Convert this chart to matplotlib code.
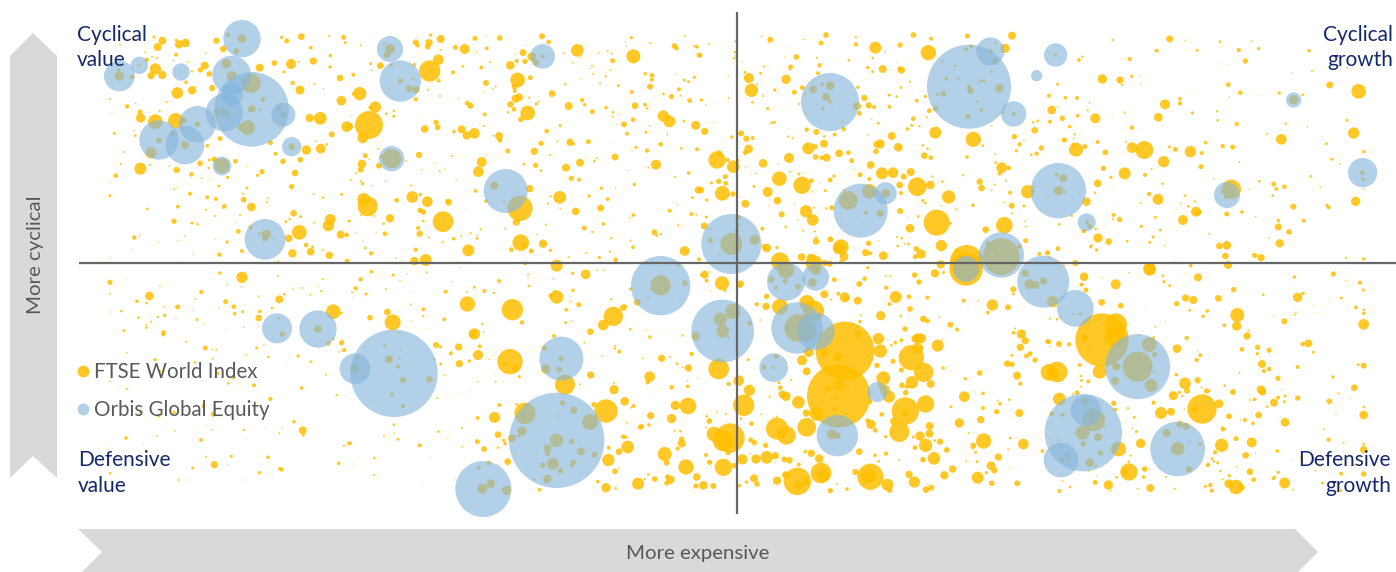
#quadrant bubble chart: FTSE World Index vs Orbis Global Equity

import numpy as np
import matplotlib.pyplot as plt
from matplotlib.lines import Line2D
from matplotlib.patches import Polygon

plt.rcParams['font.family'] = ['Lato', 'DejaVu Sans']

# readings are (x, y, diameter) at 3x scale, one list per area of the picture
# area origins, in picture pixels
top_a = (0, 0)
top_b = (350, 0)
top_c = (700, 0)
top_d = (1046, 0)
low_a = (0, 260)
low_b = (350, 260)
low_c = (700, 260)
low_d = (1046, 260)

ftse_top_a = [(487,122,24),(473,141,24),(537,133,25),(556,129,26),(649,122,19),(670,147,20),(845,112,10),(860,123,15),(904,110,20),(987,108,6),(1031,112,15),(932,143,12),(991,167,11),(1036,128,9),(462,111,9),(528,120,8),(360,133,6),(400,117,8),(435,157,5),(440,180,14),(456,170,6),(471,174,6),(528,164,12),(521,181,5),(565,187,6),(617,160,5),(466,207,34),(453,227,22),(487,225,25),(614,197,24),(601,210,16),(628,222,17),(576,214,7),(823,189,17),(873,192,30),(895,186,6),(940,183,22),(990,201,10),(779,203,24),(851,216,9),(1020,234,20),(878,249,13),(558,247,11),(532,279,35),(576,271,25),(636,264,19),(900,270,27),(943,253,6),(970,266,4),(585,260,5),(330,297,6),(500,305,6),(381,319,13),(407,310,5),(420,336,15),(422,354,28),(336,337,4),(479,333,7),(466,365,44),(527,362,46),(1024,302,29),(929,354,25),(961,355,38),(1040,380,32),(343,400,9),(402,393,5),(406,407,8),(995,403,18),(660,416,15),(811,428,15),(919,450,28),(962,446,29),(980,433,8),(947,424,6),(622,437,11),(826,461,12),(849,484,17),(901,479,17),(372,456,6),(362,492,6),(421,506,36),(450,495,7),(347,527,14),(330,547,4),(643,478,17),(600,490,17),(628,480,9),(706,484,14),(626,504,8),(530,510,19),(508,497,5),(574,523,14),(605,535,6),(632,538,4),(683,532,10),(773,526,10),(786,515,16),(885,519,20),(740,500,4),(657,558,8),(875,560,16),(522,568,6),(529,562,4),(570,581,12),(740,564,9),(330,587,9),(622,592,12),(648,597,12),(729,581,6),(731,599,17),(803,595,6),(801,607,6),(941,581,6),(969,593,8),(1025,583,9),(754,621,26),(442,627,8),(534,620,12),(618,629,6),(673,619,14),(667,625,4),(881,640,20),(720,645,6),(645,648,6),(522,664,16),(576,669,9),(593,673,8),(902,650,9),(858,665,9),(869,657,7),(943,668,6),(991,658,32),(985,677,34),(1046,663,8),(708,666,4),(752,682,13),(715,694,14),(403,713,13),(419,707,5),(898,697,44),(866,715,23),(1022,704,24),(1040,705,14),(681,726,10),(645,718,4),(475,726,4),(535,721,4),(555,707,5),(726,753,12),(918,735,14),(938,740,9),(877,760,25),(932,755,23),(988,766,22),(658,764,13),(580,763,4),(1041,783,14),(330,775,4),(395,748,4),(968,750,6),(535,787,4),(834,786,8),
    (358,228,28),(356,210,10),(397,230,14),(418,196,9),(543,216,5),(726,116,26),(683,105,14),(709,153,17),(679,191,28),(695,228,30),(753,250,58),(789,298,14),(755,327,23),(781,328,8),(743,383,44),(722,382,20),(838,323,14),(850,344,18),(651,336,20),(671,338,24),(685,347,10),(641,352,8),(592,372,16),(477,421,18),(518,400,16),(551,361,18),(453,458,34),(555,435,24),(875,440,20),(666,497,46),(799,703,28),(795,716,16),(779,700,8),(822,719,4)]

ftse_top_b = [(32,136,6),(10,224,12),(62,191,9),(65,210,5),(91,197,20),(197,127,18),(203,136,13),(237,128,22),(233,140,17),(242,105,10),(272,117,24),(272,150,6),(265,179,32),(239,213,64),(246,213,10),(193,194,11),(309,217,12),(339,199,8),(394,202,12),(344,147,30),(316,142,15),(375,115,15),(410,107,4),(410,145,12),(449,114,17),(372,159,4),(380,156,4),(420,186,6),(481,196,26),(500,183,12),(519,158,21),(525,184,16),(545,170,26),(576,109,18),(596,126,14),(527,135,4),(497,163,4),(682,151,38),(641,160,6),(668,188,5),(691,172,5),(745,159,5),(773,153,6),(785,161,6),(788,182,15),(850,169,42),(844,113,10),(901,129,6),(827,126,4),(829,138,4),(726,198,6),(720,206,4),(781,211,6),(728,221,5),(767,229,7),(750,250,6),(805,257,9),(692,237,4),(646,253,7),(408,249,18),(503,240,44),(541,233,15),(494,260,18),(494,273,12),(437,259,6),(428,266,5),(403,275,4),(606,281,20),(845,276,12),(886,221,10),(906,226,14),(905,239,12),(900,260,18),(987,268,12),(1003,240,10),(1015,245,9),(1033,232,10),(964,290,16),(940,282,8),(992,287,6),(1019,302,14),(978,222,4),(1005,109,6),(973,138,17),(980,145,13),(1032,139,6),(1040,140,12),(1047,165,15),(29,281,40),(10,282,10),(270,288,6),(197,298,13),(234,269,6),(266,242,12),(326,297,4),(351,309,14),(361,317,19),(404,343,12),(481,313,19),(492,328,14),(475,337,8),(497,296,24),(507,292,24),(533,339,44),(513,358,17),(538,293,7),(565,305,6),(559,312,10),(656,318,24),(696,300,13),(704,314,11),(727,335,15),(768,323,11),(789,337,8),(788,350,6),(804,342,4),(855,317,20),(885,314,12),(892,325,8),(849,359,14),(940,348,34),(958,364,36),(1001,364,8),(1037,376,27),(76,321,34),(61,323,12),(57,375,84),(0,379,20),(38,414,32),(132,333,8),(131,349,9),(109,341,8),(3,347,4),(204,345,3),(258,367,16),(263,382,17),(224,387,23),(312,395,11),(335,388,24),(350,406,25),(373,400,32),(390,373,4),(402,378,6),(430,407,6),(447,408,24),(450,421,15),(590,393,14),(630,377,9),(801,375,4),(822,373,18),(831,401,12),(888,397,9),(899,378,5),(952,397,5),(952,405,5),(573,430,16),(660,427,22),(672,432,9),(622,424,6),(715,425,15),(785,427,3),(858,442,10),(846,451,4),(891,452,13),(932,433,14),(994,445,8),(1041,448,12),(85,447,6),(46,467,15),(207,465,19),(473,453,15),(553,454,22),(600,465,6),(795,471,21),(711,472,3),(741,474,6),(733,483,8),(690,488,24),(648,503,24),(557,496,16),(522,493,8),(36,492,26),(32,509,18),(87,497,18),(168,482,5),(56,478,4),(410,465,4),(395,486,30),(385,515,32),(306,468,6),(255,489,4),(216,509,5),(269,513,6),(283,507,4),(18,520,6),(573,512,8),(918,494,30),(895,503,6),(832,511,4),(1016,519,11),(975,531,6),(664,535,16),(687,539,12),(754,565,10),(740,574,3),(797,564,5),(853,553,11),(319,540,4),(3,540,6),(32,544,6),(38,551,10),(65,557,5),(107,542,5),(183,556,6),(1045,570,22),(376,573,11),(539,566,22),(187,591,35),(211,584,11),(232,605,32),(140,601,14),(41,598,38),(53,619,60),(292,603,12),(296,607,20),(408,603,11),(510,625,76),(463,606,6),(629,592,38),(602,589,7),(667,586,3),(717,588,10),(773,597,12),(594,611,6),(631,626,5),(752,624,21),(677,634,23),(352,625,3),(968,605,3),(982,613,4),(1027,593,9),(959,632,12),(850,645,11),(840,653,5),(1024,642,12),(1039,644,6),(210,631,16),(220,636,17),(120,655,25),(32,646,6),(73,648,6),(0,663,6),(279,665,62),(220,663,8),(101,671,8),(499,666,22),(703,684,15),(760,672,11),(588,674,6),(784,656,3),(204,684,12),(209,701,19),(105,701,14),(18,697,4),(78,698,4),(392,688,7),(362,699,6),(383,706,5),(381,715,9),(333,708,6),(311,716,11),(466,686,6),(561,703,5),(727,696,7),(913,697,18),(920,706,9),(933,702,7),(985,674,6),(985,681,4),(237,712,6),(278,726,6),(40,723,4),(46,744,8),(63,760,13),(96,757,3),(197,749,13),(138,775,5),(193,783,25),(227,780,36),(355,751,36),(512,728,50),(523,736,16),(484,749,14),(544,753,15),(579,731,25),(601,751,10),(784,715,7),(842,722,6),(849,742,11),(1004,753,29),(709,759,6),(748,773,10),(780,755,7),(656,771,6),(797,779,14),(325,786,5),(1047,778,12),(620,797,36),(526,790,12),
    (120,147,30),(111,165,20),(103,131,8),(124,195,10),(151,243,16),(178,266,22),(198,269,22),(188,236,9),(115,266,5),(125,476,58),(96,470,12),(433,557,25),(578,169,12),(558,188,20)]

ftse_top_c = [(27,131,6),(0,166,14),(186,109,5),(211,119,18),(207,130,4),(106,124,6),(105,156,8),(108,168,7),(102,175,8),(125,186,4),(363,129,15),(378,105,17),(468,112,7),(468,133,13),(313,118,5),(268,142,3),(526,143,36),(600,135,16),(556,155,5),(640,105,17),(693,116,12),(685,158,46),(802,108,15),(936,107,24),(915,145,28),(289,171,17),(253,171,4),(351,173,6),(411,177,3),(446,181,8),(518,174,8),(359,196,13),(272,201,15),(269,209,6),(193,199,7),(205,201,3),(182,220,9),(135,217,9),(503,203,10),(548,207,24),(566,210,3),(590,189,3),(599,207,14),(604,210,22),(518,215,9),(354,220,12),(147,234,30),(137,233,10),(258,238,28),(172,252,6),(85,227,4),(630,245,6),(154,271,40),(224,270,10),(234,275,4),(283,277,15),(307,263,15),(473,262,10),(336,248,4),(603,263,8),(189,288,6),(109,275,4),(87,295,6),(4,300,10),(17,314,4),(46,310,3),(157,307,8),(203,326,10),(297,312,6),(493,294,19),(506,316,19),(522,321,12),(568,285,9),(590,290,8),(568,320,12),(650,302,12),(676,289,10),(688,332,14),(478,340,15),(640,356,14),(681,352,6),(635,376,9),(622,387,11),(658,379,7),(214,369,7),(222,367,10),(43,368,4),(267,385,3),(515,358,4),(535,370,9),(875,377,5),(999,367,8),(1013,362,8),(1004,391,20),(706,398,36),(820,418,46),(848,437,8),(14,394,22),(123,400,18),(95,411,10),(139,416,19),(158,414,12),(265,410,7),(278,415,6),(320,389,13),(349,396,18),(373,409,8),(404,404,12),(431,387,14),(504,405,5),(575,408,24),(943,410,16),(972,422,5),(146,447,26),(135,457,13),(136,461,10),(325,445,36),(345,440,16),(372,431,24),(540,432,28),(530,433,20),(595,442,26),(668,436,8),(683,446,8),(959,433,13),(949,452,10),(1024,444,16),(994,464,8),(1010,461,13),(51,480,52),(57,460,18),(83,480,12),(100,500,38),(115,481,8),(189,490,26),(267,474,30),(347,471,17),(365,473,14),(380,473,24),(417,460,23),(445,458,14),(528,454,17),(455,482,15),(673,467,20),(692,473,14),(801,471,11),(886,463,6),(887,488,8),(905,503,32),(899,521,12),(926,504,14),(136,502,4),(233,491,4),(512,495,23),(463,510,4),(546,520,36),(579,518,32),(611,530,18),(632,516,24),(480,524,15),(508,537,12),(296,522,8),(308,518,4),(270,515,6),(151,521,3),(168,520,5),(696,529,6),(789,526,6),(76,530,15),(56,544,16),(77,550,14),(34,549,9),(238,536,44),(306,556,52),(334,542,14),(162,559,9),(390,540,15),(402,528,10),(358,548,4),(599,555,20),(652,560,56),(691,555,26),(727,545,8),(839,545,19),(845,564,20),(884,554,6),(918,542,6),(2,570,20),(67,580,44),(67,595,10),(99,582,16),(203,576,30),(376,572,9),(338,575,5),(603,579,12),(746,591,40),(875,571,5),(930,578,12),(983,575,40),(1002,560,8),(20,600,10),(136,611,24),(123,590,4),(232,602,23),(245,643,18),(284,613,4),(207,617,4),(318,634,37),(338,660,35),(342,623,6),(379,625,7),(394,620,9),(396,624,15),(668,602,10),(676,609,8),(723,617,5),(819,616,11),(913,607,6),(935,617,18),(972,618,9),(600,633,18),(769,628,6),(655,649,8),(623,653,4),(710,668,78),(752,670,8),(937,641,6),(913,676,50),(974,664,5),(978,680,6),(13,678,21),(19,651,9),(187,686,12),(257,680,8),(294,661,5),(309,692,6),(345,694,6),(630,685,26),(857,689,20),(591,711,6),(605,715,8),(348,724,20),(348,711,6),(391,718,18),(506,730,16),(536,722,4),(423,741,46),(415,745,34),(462,744,4),(593,738,8),(615,731,6),(625,732,8),(724,737,34),(977,722,15),(200,744,26),(192,740,15),(231,743,10),(240,784,54),(305,771,23),(333,774,26),(342,790,50),(374,789,18),(389,791,18),(432,770,26),(424,785,13),(497,758,22),(511,760,12),(550,767,26),(649,747,17),(663,762,28),(646,770,15),(722,793,25),(800,785,100),(798,807,100),(770,752,14),(1042,758,14),(1018,762,12),(1049,772,8),(503,803,10),
    (391,257,26),(339,268,24),(378,291,24),(390,305,12),(366,253,10),(369,326,10),(316,282,8),(341,240,5),(471,318,24),(427,365,8),(318,341,6),(400,322,4),(811,272,19),(807,260,12),(730,281,16),(714,283,10),(739,236,12),(774,235,8),(765,198,8),(727,184,7),(798,148,12),(813,139,12),(843,242,11),(853,244,9),(833,250,6),(898,265,26),(832,305,8),(844,330,11),(804,349,15),(706,326,16),(889,348,4),(872,154,14),(885,184,20),(887,129,8),(864,120,4),(874,215,8),(927,329,5),(941,342,12),(909,338,8),(445,601,56),(508,574,44),(498,638,12),(540,640,22),(515,630,4),(474,655,4),(424,671,4),(557,580,26),(432,570,8),(94,732,66),(164,720,30),(31,721,16),(115,652,14),(111,695,12),(117,675,8),(59,760,6),(33,688,5),(904,770,110),(958,739,14),(892,765,16),(864,730,14)]

ftse_top_d = [(200,120,7),(371,117,21),(416,121,4),(522,125,8),(617,124,6),(332,152,12),(454,151,9),(578,150,13),(638,146,10),(789,152,11),(99,180,11),(109,170,7),(251,177,13),(598,183,16),(520,190,3),(542,193,3),(737,218,4),(798,214,6),(904,203,6),(169,237,28),(222,240,22),(257,229,10),(282,230,4),(228,255,7),(285,251,4),(35,253,9),(547,254,14),(851,255,21),(938,274,44),(583,278,14),(700,279,10),(770,284,8),(428,276,3),(551,290,4),(638,286,3),(9,287,12),(58,293,11),(93,294,12),(402,296,11),(402,310,13),(357,313,30),(131,308,5),(17,330,26),(36,322,5),(125,331,7),(95,347,11),(49,355,16),(12,365,12),(148,355,30),(200,344,3),(236,337,6),(337,352,26),(439,339,10),(513,334,7),(515,361,8),(594,361,3),(572,372,13),(719,371,7),(903,361,9),(71,380,11),(258,383,14),(287,391,3),(784,380,5),(86,403,7),(84,415,5),(55,420,16),(155,426,12),(240,425,6),(662,402,6),(706,418,32),(923,399,34),(90,449,42),(84,435,14),(117,440,15),(178,457,17),(258,443,32),(295,450,54),(370,441,9),(388,448,15),(433,455,34),(467,459,12),(479,428,11),(530,438,13),(560,441,15),(841,431,9),(953,455,10),(172,505,16),(353,485,34),(465,500,15),(580,486,6),(857,478,9),(881,492,5),(195,532,10),(236,520,36),(297,525,12),(317,507,6),(503,536,5),(640,544,8),(795,529,8),(155,550,23),(350,551,8),(683,552,15),(715,560,14),(691,567,12),(823,561,5),(953,568,5),(147,578,7),(199,562,3),(556,568,58),(609,568,4),(680,587,8),(309,582,13),(336,598,33),(417,587,8),(121,605,26),(284,609,6),(405,610,5),(447,604,6),(427,619,8),(214,610,3),(450,635,30),(457,637,18),(742,620,18),(843,616,10),(848,622,12),(929,604,28),(588,636,11),(542,642,15),(629,650,5),(77,647,8),(203,645,12),(201,657,6),(221,659,16),(328,652,9),(411,660,30),(697,662,11),(773,662,12),(40,673,8),(286,679,10),(177,679,3),(697,681,21),(729,696,17),(149,687,8),(113,693,14),(343,690,9),(490,701,6),(156,714,28),(188,725,20),(244,724,8),(321,711,9),(311,727,9),(670,713,5),(701,730,25),(134,740,10),(137,736,7),(152,750,10),(36,746,14),(356,737,5),(520,738,20),(542,736,26),(5,759,14),(88,789,18),(538,768,20),(626,766,16),(645,773,22),(901,774,7),(953,777,10),(310,806,36),(385,785,3),(434,797,11),(546,795,24),
    (29,165,10),(32,524,12),(52,534,24),(38,572,28),(58,576,8),(5,590,6),(101,577,4),(123,667,12),(131,679,14),(125,655,4),(540,592,10),(525,576,8),(743,299,28),(949,518,14),(952,538,10)]

ftse_low_a = [(659,39,10),(726,52,34),(330,67,16),(378,58,3),(833,48,6),(968,57,6),(480,78,5),(681,74,5),(725,80,5),(604,96,13),(330,101,6),(448,108,26),(411,124,11),(440,129,8),(586,117,6),(677,125,15),(776,109,6),(838,118,24),(853,103,8),(879,87,5),(906,84,6),(931,104,6),(964,93,7),(955,79,4),(330,156,4),(364,153,8),(493,140,6),(533,141,15),(580,151,4),(701,140,14),(728,155,9),(657,144,4),(732,136,3),(816,144,8),(779,154,11),(704,161,11),(1000,155,44),(1024,160,8),(415,173,8),(474,171,7),(494,166,10),(528,177,4),(591,179,9),(776,174,20),(453,185,6),(439,194,6),(439,203,8),(612,191,4),(372,212,9),(491,218,15),(489,224,11),(558,245,6),(676,208,3),(731,202,5),(776,201,3),(770,264,9),(616,264,15),(635,269,5),(649,269,6),(739,285,5),(792,253,5),(805,291,8),(894,288,10),(381,278,5),(465,299,10),(531,304,4),(585,307,8),(638,296,6),(933,305,8),(856,319,3),(978,344,6),(1025,248,16),(1000,237,8),(1033,270,12),(1017,276,5),(1026,272,6),(480,333,8),(652,340,12),(699,352,12),(330,364,5),(381,387,6),(389,385,3),(685,370,8),(715,367,3),(762,376,12),(905,384,11),(1010,405,7),(1036,406,3),(811,417,13),(420,456,8),(476,467,11),(522,458,10),(610,439,11),(640,463,15),(882,485,11),(525,513,5),(619,496,3),(636,509,5),(731,510,7),(796,502,3),(847,504,4),(908,511,24),(910,525,9),(838,520,6),(378,534,11),(471,528,5),(603,540,12),(330,553,3),(430,553,3),(736,536,3),(1047,550,12),(1032,558,6),(618,590,6),(694,589,9),(804,592,11),(578,624,9),(643,614,22),(683,613,4),(1016,610,11),(778,638,10),(840,626,11),(845,629,12),(820,642,3),(330,640,8),(536,660,6),(730,660,4),
    (835,175,8),(847,222,16),(830,205,3),(954,207,24),(985,250,14),(924,180,3)]

ftse_low_b = [(330,22,4),(64,35,11),(32,58,13),(17,85,13),(6,97,6),(48,102,9),(130,45,9),(115,48,3),(150,62,5),(172,42,4),(231,37,6),(107,87,6),(187,94,3),(305,65,5),(287,95,12),(351,96,6),(373,82,9),(403,93,12),(432,99,7),(447,63,12),(534,44,6),(534,54,4),(537,78,8),(611,56,5),(668,40,10),(707,43,29),(741,30,5),(761,31,6),(669,91,11),(612,93,6),(620,111,40),(602,107,14),(352,132,46),(487,149,64),(183,133,6),(516,187,13),(686,134,15),(661,125,5),(649,149,12),(751,136,3),(784,118,7),(790,169,58),(820,143,20),(826,138,10),(760,195,32),(647,188,9),(665,184,5),(841,208,8),(721,215,20),(829,187,3),(112,156,20),(128,187,48),(60,173,17),(220,148,12),(220,169,7),(183,182,4),(283,178,12),(397,193,7),(230,206,3),(373,222,34),(401,215,5),(368,222,22),(612,228,12),(703,248,6),(890,211,4),(900,231,11),(949,220,3),(997,227,7),(1025,282,13),(258,255,18),(271,261,10),(326,261,22),(389,259,12),(302,280,12),(384,285,30),(358,303,10),(328,311,22),(272,312,9),(283,345,5),(415,298,4),(433,286,3),(546,271,3),(756,288,5),(795,258,6),(794,266,8),(808,275,12),(878,295,5),(935,295,22),(960,291,6),(981,311,9),(997,322,5),(1015,324,22),(480,305,76),(464,313,14),(497,325,20),(508,350,9),(437,365,6),(461,366,4),(435,345,3),(383,365,5),(722,345,22),(736,354,3),(690,373,6),(899,350,32),(893,367,13),(1044,355,4),(1013,362,5),(792,369,6),(792,389,28),(965,382,14),(1013,379,11),(261,414,6),(338,398,3),(352,399,3),(360,393,3),(910,403,3),(448,435,12),(434,472,33),(383,474,12),(500,433,8),(824,424,26),(843,443,6),(851,438,12),(732,434,16),(768,453,70),(976,436,28),(1014,438,50),(902,467,22),(965,476,28),(132,494,8),(830,488,5),(833,491,3),(874,500,17),(869,502,12),(897,495,11),(265,515,8),(132,520,5),(102,527,6),(144,538,9),(209,556,12),(2,550,8),(302,525,3),(290,535,3),(336,503,6),(337,560,5),(444,524,20),(382,545,15),(461,541,10),(465,551,11),(444,563,8),(402,567,17),(820,530,14),(828,532,10),(833,561,38),(807,575,20),(776,563,12),(775,600,37),(974,512,6),(991,514,8),(995,538,17),(995,551,24),(983,566,12),(944,582,42),(950,608,18),(1008,621,46),(73,594,8),(244,589,3),(72,645,6),(473,605,20),(795,634,17),(807,624,5),(1040,651,23),(895,643,8),(914,657,17),(884,657,6),(952,650,14),(961,659,26),(950,669,15),(864,671,36),(743,665,11),(768,683,28),(797,685,8),(1038,678,16),(568,689,11),(214,679,3),(315,655,3),(8,612,3),(8,113,3),(110,213,3),(145,217,5),(157,222,4),(645,374,60),(525,460,64),
    (117,298,24),(144,320,12),(104,257,9),(159,360,18),(148,295,7),(126,404,13),(159,438,13),(238,358,20),(153,267,6),(253,298,8),(72,422,5),(15,326,28),(23,293,12),(46,261,5),(633,296,15),(583,264,16),(587,327,28),(628,329,18),(932,76,60),(1005,69,17),(894,116,8),(862,127,20),(842,87,10),(902,88,6),(985,16,9),(924,22,4),(990,122,4),(416,609,14),(386,623,12),(397,686,30),(422,671,26),(470,691,28),(620,541,40),(638,429,16),(671,451,22),(720,486,48),(516,513,28),(486,535,24),(506,528,10),(593,564,24),(592,581,15),(609,611,36),(578,616,17),(665,544,16),(693,574,24),(734,584,17),(670,607,16),(665,616,12),(631,633,16),(592,656,24),(589,665,12),(553,658,7),(560,582,5),(623,468,8),(493,584,6),(1037,229,26)]

ftse_low_c = [(66,70,42),(75,92,9),(14,44,24),(5,45,10),(20,62,12),(30,36,5),(122,71,20),(120,78,12),(33,93,4),(56,327,62),(116,362,32),(86,372,13),(148,391,34),(131,436,64),(209,410,7),(184,462,5),(50,457,5),(78,462,6),(20,469,8),(28,483,17),(154,491,14),(123,476,8),(18,502,6),(90,534,88),(70,542,64),(42,522,44),(84,578,16),(152,540,15),(163,548,16),(18,585,12),(29,607,16),(127,598,31),(103,617,17),(70,622,52),(150,581,5),(35,620,3),(170,133,13),(198,139,22),(200,109,16),(145,299,9),(174,293,3),(181,180,5),(197,556,16),(168,597,28),(200,592,38),(226,587,22),(253,598,17),(268,601,20),(225,606,4),(296,614,12),(162,655,24),(171,672,17),(139,666,10),(118,677,11),(10,676,26),(40,678,18),(231,662,25),(257,645,22),(292,664,82),(295,676,26),(319,664,22),(240,140,48),(321,128,46),(340,153,64),(306,301,30),(326,276,30),(320,334,24),(237,368,9),(241,383,14),(247,403,24),(258,409,28),(295,427,38),(319,459,22),(349,462,40),(320,502,56),(231,506,66),(259,526,56),(230,470,6),(334,580,22),(316,575,11),(358,596,26),(363,639,62),(368,646,38),(391,692,16),(411,672,6),(441,687,11),(359,620,6),(273,360,6),(180,130,3),(435,273,176),(413,292,26),(373,279,26),(475,221,20),(416,408,190),(417,375,32),(383,385,20),(406,448,14),(410,412,14),(395,416,6),(441,381,10),(361,422,5),(366,431,8),(483,166,6),(480,185,11),(494,56,14),(478,72,18),(403,59,15),(373,103,24),(415,101,12),(434,112,30),(440,115,16),(393,119,6),(473,122,24),(557,49,6),(571,49,6),(644,45,17),(705,40,25),(731,37,9),(657,66,16),(559,83,13),(587,111,36),(568,132,12),(627,110,14),(682,113,12),(630,147,17),(542,167,28),(602,168,8),(670,177,20),(682,183,14),(718,171,5),(751,194,18),(771,209,12),(615,207,16),(691,183,3),(791,122,12),(834,122,5),(877,135,34),(924,142,18),(863,158,11),(804,140,3),(535,236,34),(553,235,4),(541,273,40),(531,316,16),(604,330,15),(634,293,76),(653,235,30),(645,236,22),(663,235,30),(653,265,34),(604,241,12),(586,248,11),(574,256,8),(563,240,3),(579,304,15),(671,337,58),(713,257,36),(727,240,5),(730,324,10),(752,334,3),(550,355,42),(636,367,38),(606,376,17),(621,380,13),(692,372,24),(617,398,17),(540,380,12),(567,410,36),(555,390,30),(519,400,4),(510,425,14),(796,356,10),(839,339,17),(793,410,32),(827,396,4),(849,400,11),(849,444,12),(753,440,9),(765,461,3),(893,422,6),(900,431,11),(928,419,8),(890,455,16),(958,459,24),(616,453,82),(677,432,52),(615,458,20),(581,484,22),(598,516,60),(545,463,14),(503,482,14),(513,493,28),(526,511,14),(557,530,10),(778,489,28),(842,479,22),(689,498,24),(688,521,24),(660,528,28),(640,531,9),(677,556,40),(720,545,19),(704,542,8),(645,563,14),(740,570,17),(478,575,20),(525,586,11),(558,581,13),(536,604,8),(598,601,6),(669,599,17),(702,595,38),(851,543,46),(820,557,18),(817,566,6),(827,577,9),(806,519,6),(822,517,3),(931,534,8),(970,552,32),(925,568,6),(1027,573,11),(1043,245,14),(1047,337,50),(940,88,18),(940,102,8),(964,222,28),(945,205,6),(941,218,11),(976,242,22),(961,262,22),(990,281,15),(979,288,14),(1005,300,16),(935,286,9),(922,311,20),(936,313,16),(951,347,24),(961,371,13),(895,591,22),(799,604,5),(831,605,9),(873,617,26),(883,631,19),(859,638,10),(833,653,36),(875,670,17),(952,670,18),(758,627,22),(733,646,25),(627,643,22),(643,666,34),(466,636,19),(511,650,78),(505,648,44),(562,674,36),(569,690,17),(511,690,5),(678,689,20),(694,683,18),(684,674,5),(932,626,4),(1035,630,3),
    (976,40,22),(988,72,30),(1006,75,24),(1030,63,22),(258,30,50),(256,63,16),(294,80,18),(228,83,12),(214,58,20),(347,30,30),(337,68,26),(98,154,46),(61,178,40),(68,214,38),(149,190,15),(85,232,8),(295,204,84),(320,215,60),(229,289,15),(192,322,15),(220,323,10),(396,523,30),(412,527,20)]

ftse_low_d = [(54,17,6),(39,25,5),(114,50,26),(108,73,11),(105,75,10),(120,90,15),(209,73,30),(249,38,5),(168,53,4),(311,28,38),(351,47,8),(354,65,10),(371,77,9),(414,41,3),(456,52,24),(563,89,16),(517,115,20),(419,114,22),(442,120,24),(392,131,16),(652,104,8),(755,112,28),(771,100,11),(745,51,10),(730,60,3),(862,42,16),(901,61,4),(942,68,13),(952,90,9),(886,114,9),(800,134,3),(929,142,11),(953,150,8),(953,160,10),(953,193,32),(715,184,18),(750,157,5),(746,164,6),(817,157,3),(684,167,4),(574,165,42),(572,198,28),(535,196,11),(607,212,6),(603,228,22),(484,153,11),(471,169,11),(431,151,8),(299,149,3),(358,184,4),(328,200,6),(167,127,20),(224,137,17),(12,176,6),(33,178,8),(44,172,7),(168,240,160),(210,193,66),(205,230,60),(115,234,22),(129,263,9),(161,335,42),(101,315,12),(214,320,20),(8,245,15),(39,252,18),(69,253,13),(12,258,5),(422,234,13),(393,266,26),(323,232,8),(463,286,12),(452,300,13),(454,273,4),(635,262,16),(669,271,15),(644,293,4),(588,268,14),(634,281,10),(648,312,24),(669,327,14),(654,333,13),(640,330,3),(755,321,12),(787,250,24),(770,252,14),(802,277,9),(861,351,10),(937,314,9),(953,317,18),(696,355,16),(580,338,6),(33,336,62),(25,342,30),(105,348,8),(106,361,9),(127,364,12),(105,380,6),(391,344,11),(417,370,35),(423,392,18),(455,361,19),(400,397,10),(409,408,7),(382,407,27),(467,382,6),(482,393,16),(490,393,8),(536,377,8),(561,396,18),(645,389,26),(650,396,22),(925,383,20),(707,390,4),(755,414,16),(717,408,9),(696,413,12),(715,425,9),(684,428,24),(664,440,8),(613,420,6),(626,418,11),(850,424,17),(878,400,6),(913,414,4),(876,431,3),(953,441,8),(953,465,26),(870,460,5),(40,417,38),(93,398,14),(80,402,6),(203,430,16),(208,449,12),(246,445,8),(323,428,13),(345,459,36),(375,455,24),(415,447,5),(445,446,20),(468,447,88),(519,431,26),(549,469,17),(265,472,9),(638,465,20),(584,478,4),(597,480,12),(621,490,11),(717,487,26),(702,473,3),(531,507,15),(258,505,5),(271,515,9),(835,508,6),(284,550,28),(527,556,40),(570,536,15),(617,547,30),(848,539,13),(893,548,6),(953,553,8),(953,569,22),(507,577,13),(694,573,11),(599,586,20),(628,578,4),(218,567,44),(253,587,6),(248,605,8),(486,615,13),(499,596,9),(503,604,8),(515,609,9),(572,620,5),(738,598,3),(765,593,6),(926,614,6),(822,620,4),(523,633,8),(612,635,20),(530,658,6),(550,647,10),(697,637,10),(885,641,12),(953,642,17),(808,632,6),(249,636,52),(236,636,20),(296,627,17),(312,627,4),(293,651,11),(360,651,6),(212,652,8),(152,648,4),(623,659,14),(685,653,12),(680,656,8),(548,671,26),(570,681,44),(586,682,20),(716,669,33),(147,667,15),(50,662,5),(187,675,28),(275,686,6),(313,684,24),(386,686,6),(72,681,8),(40,693,12),(193,692,5),(478,679,9),(493,675,13),(497,692,12),(741,689,6),(830,669,9),(885,692,9),
    (20,125,34),(310,254,44),(275,320,90),(315,376,38),(207,363,24),(326,284,16),(210,320,24),(325,336,8),(280,224,5),(82,162,6),(103,162,9),(116,425,24),(143,479,68),(110,518,42),(156,531,24),(112,551,17),(163,579,16),(131,608,26),(65,588,16),(47,600,18),(50,465,12),(18,461,14),(362,519,24),(395,566,40),(401,492,20),(420,499,22),(429,628,18),(462,553,11),(431,547,6),(198,573,10),(326,590,3),(175,500,8),(37,540,8),(127,632,6),(150,618,8),(12,533,5)]

orbis_top_a = [(358,228,92),(418,196,52),(543,216,52),(726,116,112),(695,225,116),(755,328,224),(696,283,66),(673,338,112),(592,373,110),(477,420,118),(555,435,116),(850,344,72),(875,440,58),(666,498,56),(795,718,122)]
orbis_top_b = [(120,147,78),(151,243,124),(578,169,74),(125,476,76),(467,573,132)]
orbis_top_c = [(390,306,174),(807,260,252),(871,154,84),(1010,227,34),(941,342,76),(482,632,162),(557,580,66),(94,732,180),(904,765,136),(798,807,78)]
orbis_top_d = [(29,165,70),(37,572,166),(122,667,54),(543,585,78),(743,300,46),(950,518,88)]
orbis_low_a = [(831,205,90),(954,207,112)]
orbis_low_b = [(132,340,262),(15,326,92),(634,296,132),(932,77,178),(400,687,168),(620,541,286)]
orbis_low_c = [(258,65,114),(347,52,80),(1030,65,156),(68,213,188),(291,204,154),(348,214,112),(221,323,86),(532,396,60),(412,527,124)]
orbis_low_d = [(88,145,110),(275,320,195),(112,518,232),(120,451,92),(45,600,104),(395,567,164)]

ftse_groups = [(top_a, ftse_top_a), (top_b, ftse_top_b), (top_c, ftse_top_c), (top_d, ftse_top_d),
               (low_a, ftse_low_a), (low_b, ftse_low_b), (low_c, ftse_low_c), (low_d, ftse_low_d)]
orbis_groups = [(top_a, orbis_top_a), (top_b, orbis_top_b), (top_c, orbis_top_c), (top_d, orbis_top_d),
                (low_a, orbis_low_a), (low_b, orbis_low_b), (low_c, orbis_low_c), (low_d, orbis_low_d)]

FTSE_COLOR = '#FFBF00'
ORBIS_COLOR = '#86B6DC'
GREY = '#595959'
NAVY = '#14296B'
DPI = 100


def toPoints(groups):
    # readings -> picture pixels, diameter -> scatter area in points^2
    xs, ys, sizes = [], [], []
    for origin, readings in groups:
        arr = np.array(readings, dtype=float)
        xs.append(origin[0] + arr[:, 0] / 3)
        ys.append(origin[1] + arr[:, 1] / 3)
        sizes.append((arr[:, 2] / 3 * 72 / DPI) ** 2)
    return np.concatenate(xs), np.concatenate(ys), np.concatenate(sizes)


fig = plt.figure(figsize=(13.96, 5.72), dpi=DPI)
ax = fig.add_axes([0, 0, 1, 1])
ax.set_xlim(0, 1396)
ax.set_ylim(572, 0)
ax.axis('off')

# grey arrows
ax.add_patch(Polygon([(33, 33), (57, 56), (57, 478), (33, 456), (10, 478), (10, 56)],
                     facecolor='#D9D9D9', edgecolor='none', zorder=1))
ax.add_patch(Polygon([(78, 529), (1295, 529), (1318, 552), (1298, 572), (82, 572), (102, 552)],
                     facecolor='#D9D9D9', edgecolor='none', zorder=1))

x, y, s = toPoints(ftse_groups)
ax.scatter(x, y, s=s, color=FTSE_COLOR, alpha=0.85, linewidths=0, zorder=2)
x, y, s = toPoints(orbis_groups)
ax.scatter(x, y, s=s, color=ORBIS_COLOR, alpha=0.63, linewidths=0, zorder=3)

# quadrant axes
ax.plot([79, 1396], [263, 263], color='#666666', lw=1.6, zorder=4, solid_capstyle='butt')
ax.plot([737, 737], [12, 514], color='#666666', lw=1.6, zorder=4, solid_capstyle='butt')

handles = [Line2D([], [], ls='none', marker='o', ms=8.5, mfc=FTSE_COLOR, mec='none', alpha=0.85, label='FTSE World Index'),
           Line2D([], [], ls='none', marker='o', ms=8.5, mfc=ORBIS_COLOR, mec='none', alpha=0.63, label='Orbis Global Equity')]
leg = ax.legend(handles=handles, loc='upper left', bbox_to_anchor=(73 / 1396, 1 - 362 / 572), frameon=False,
                fontsize=14.8, labelcolor=GREY, handlelength=1.0, handletextpad=0.02,
                labelspacing=0.88, borderpad=0, borderaxespad=0)
leg.set_zorder(5)

ax.text(35, 255, 'More cyclical', rotation=90, ha='center', va='center', fontsize=14.7, color=GREY, zorder=5)
ax.text(698, 554, 'More expensive', ha='center', va='center', fontsize=14.7, color=GREY, zorder=5)

ax.text(77, 47.5, 'Cyclical\nvalue', ha='left', va='center', fontsize=15, color=NAVY, linespacing=1.32, zorder=5)
ax.text(1393, 47.5, 'Cyclical\ngrowth', ha='right', va='center', fontsize=15, color=NAVY, linespacing=1.32, zorder=5)
ax.text(78, 473, 'Defensive\nvalue', ha='left', va='center', fontsize=15, color=NAVY, linespacing=1.32, zorder=5)
ax.text(1391, 473, 'Defensive\ngrowth', ha='right', va='center', fontsize=15, color=NAVY, linespacing=1.32, zorder=5)

fig.savefig('out.png', dpi=DPI)
